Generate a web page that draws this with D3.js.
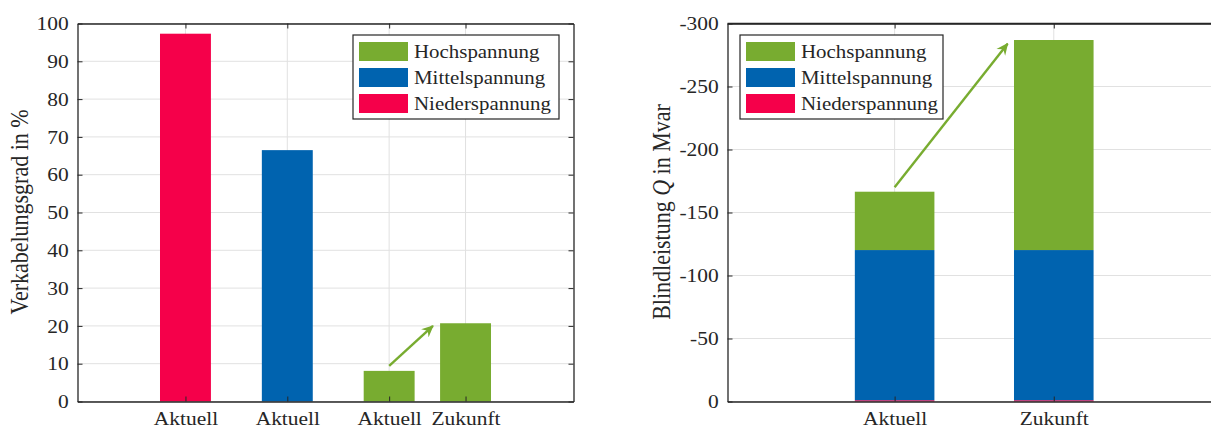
<!DOCTYPE html>
<html>
<head>
<meta charset="utf-8">
<script src="https://cdn.jsdelivr.net/npm/d3@7"></script>
<style>
  body { margin: 0; background: #fff; }
  svg text { font-family: "Liberation Serif", "Times New Roman", serif; fill: #262626; }
</style>
</head>
<body>
<div id="chart"></div>
<script>
// voltage levels, legend order
const levels = ["Hochspannung", "Mittelspannung", "Niederspannung"];
const levelColors = ["#78ac30", "#0063af", "#f5004a"];

// left chart: Verkabelungsgrad
const cableLabels = ["Aktuell", "Aktuell", "Aktuell", "Zukunft"];
const cablePos = [1, 2, 3, 3.75];
const cableLevel = ["Niederspannung", "Mittelspannung", "Hochspannung", "Hochspannung"];
const cableValues = [97.3, 66.5, 8.1, 20.7];
const cableTicks = [0, 10, 20, 30, 40, 50, 60, 70, 80, 90, 100];
const cableArrow = [[3.0, 9.4], [3.43, 20.0]];

// right chart: Blindleistung (stacked)
const qLabels = ["Aktuell", "Zukunft"];
const qPos = [1, 2];
const qNieder = [-1, -1];
const qMittel = [-119.2, -119.2];
const qHoch = [-46.3, -166.7];
const qTicks = [0, -50, -100, -150, -200, -250, -300];
const qArrow = [[1.0, -170], [1.71, -284]];

(function charts(){
  const width = 1211, height = 428;
  const stretch = 1.1;   // glyphs in the picture are a bit wider than tall
  const fs = 19.5;

  const svg = d3.select("#chart").append("svg")
    .attr("width", width).attr("height", height);

  const color = d3.scaleOrdinal().domain(levels).range(levelColors);

  // swept-back arrow head like the MATLAB annotation arrow
  svg.append("defs").append("marker")
    .attr("id", "head")
    .attr("viewBox", "0 0 12 12")
    .attr("refX", 11).attr("refY", 6)
    .attr("markerWidth", 12).attr("markerHeight", 12)
    .attr("markerUnits", "userSpaceOnUse")
    .attr("orient", "auto")
    .append("path")
    .attr("d", "M0,0.5 L12,6 L0,11.5 L4,6 Z")
    .attr("fill", levelColors[0]);

  function grid(g, x, y, box, xTickVals, yTickVals) {
    g.append("g").selectAll("line").data(yTickVals).join("line")
      .attr("x1", box.x0).attr("x2", box.x1)
      .attr("y1", d => y(d)).attr("y2", d => y(d))
      .attr("stroke", "#e1e1e1").attr("stroke-width", 1);
    g.append("g").selectAll("line").data(xTickVals).join("line")
      .attr("x1", d => x(d)).attr("x2", d => x(d))
      .attr("y1", box.y0).attr("y2", box.y1)
      .attr("stroke", "#e1e1e1").attr("stroke-width", 1);
  }

  function axes(g, x, y, box, xTickVals, xTickLabels, yTickVals, showRight) {
    g.append("g").attr("transform", `translate(${box.x0},0)`)
      .call(d3.axisLeft(y).tickValues(yTickVals).tickSizeInner(-5).tickSizeOuter(0)
        .tickPadding(8).tickFormat(d => String(d)));
    g.append("g").attr("transform", `translate(0,${box.y1})`)
      .call(d3.axisBottom(x).tickValues(xTickVals).tickSizeInner(-5).tickSizeOuter(0)
        .tickPadding(10).tickFormat((d, i) => xTickLabels[i]));
    g.append("g").attr("transform", `translate(0,${box.y0})`)
      .call(d3.axisTop(x).tickValues(xTickVals).tickSizeInner(-5).tickSizeOuter(0).tickFormat(""));
    if (showRight) {
      g.append("g").attr("transform", `translate(${box.x1},0)`)
        .call(d3.axisRight(y).tickValues(yTickVals).tickSizeInner(-5).tickSizeOuter(0).tickFormat(""));
    } else {
      g.append("line").attr("x1", box.x0).attr("x2", box.x1)
        .attr("y1", box.y0).attr("y2", box.y0);
    }
    g.selectAll(".domain").attr("stroke", "#262626").attr("stroke-width", 1.3);
    g.selectAll(".tick line").attr("stroke", "#262626").attr("stroke-width", 1);
    g.selectAll(":scope > line").attr("stroke", "#262626").attr("stroke-width", 1.3);
    g.selectAll(".tick text")
      .attr("font-family", "Liberation Serif").attr("font-size", fs)
      .attr("fill", "#262626")
      .attr("transform", `scale(${stretch},1)`);
  }

  function legend(g, lx, ly, w, h) {
    const lg = g.append("g").attr("transform", `translate(${lx},${ly})`);
    lg.append("rect").attr("width", w).attr("height", h)
      .attr("fill", "#fff").attr("stroke", "#262626").attr("stroke-width", 1.2);
    const rows = lg.selectAll("g.row").data(levels).join("g")
      .attr("transform", (d, i) => `translate(6,${7 + i * 26})`);
    rows.append("rect").attr("width", 49).attr("height", 19)
      .attr("fill", d => color(d));
    rows.append("text")
      .attr("transform", `translate(55,16) scale(${stretch},1)`)
      .attr("font-size", 19)
      .text(d => d);
  }

  function ylabel(g, x, y, parts) {
    const t = g.append("text")
      .attr("transform", `translate(${x},${y}) scale(${stretch},1) rotate(-90)`)
      .attr("text-anchor", "middle")
      .attr("font-size", 22);
    parts.forEach(p => t.append("tspan").attr("font-style", p.italic ? "italic" : null).text(p.t));
  }

  function arrow(g, x, y, pts) {
    g.append("line")
      .attr("x1", x(pts[0][0])).attr("y1", y(pts[0][1]))
      .attr("x2", x(pts[1][0])).attr("y2", y(pts[1][1]))
      .attr("stroke", levelColors[0]).attr("stroke-width", 2.4)
      .attr("marker-end", "url(#head)");
  }

  // ---------- left chart ----------
  const boxL = {x0: 77.5, x1: 573.5, y0: 23.5, y1: 401.5};
  const xL = d3.scaleLinear().domain([-0.06, 4.81]).range([boxL.x0, boxL.x1]);
  const yL = d3.scaleLinear().domain([0, 100]).range([boxL.y1, boxL.y0]);
  const gL = svg.append("g");
  grid(gL, xL, yL, boxL, cablePos, cableTicks);

  const barW = xL(0.5) - xL(0);
  gL.append("g").selectAll("rect")
    .data(cableValues.map((v, i) => ({v, p: cablePos[i], level: cableLevel[i]})))
    .join("rect")
    .attr("x", d => xL(d.p) - barW / 2)
    .attr("width", barW)
    .attr("y", d => yL(d.v))
    .attr("height", d => yL(0) - yL(d.v))
    .attr("fill", d => color(d.level));

  axes(gL, xL, yL, boxL, cablePos, cableLabels, cableTicks, true);
  arrow(gL, xL, yL, cableArrow);
  legend(gL, 353, 35, 206, 84);
  ylabel(gL, 28, 212, [{t: "Verkabelungsgrad in %"}]);

  // ---------- right chart ----------
  const boxR = {x0: 727.5, x1: 1240, y0: 23.5, y1: 401.5};
  const xR = d3.scaleLinear().domain([-0.05, 3.17]).range([boxR.x0, boxR.x1]);
  const yR = d3.scaleLinear().domain([0, -300]).range([boxR.y1, boxR.y0]);
  const gR = svg.append("g");
  grid(gR, xR, yR, boxR, qPos, qTicks);

  const table = qLabels.map((label, i) => ({
    label, p: qPos[i],
    Niederspannung: qNieder[i], Mittelspannung: qMittel[i], Hochspannung: qHoch[i]
  }));
  const stack = d3.stack().keys(["Niederspannung", "Mittelspannung", "Hochspannung"])(table);
  const barWR = xR(0.5) - xR(0);
  gR.append("g").selectAll("g")
    .data(stack).join("g")
    .attr("fill", s => color(s.key))
    .selectAll("rect")
    .data(s => s).join("rect")
    .attr("x", d => xR(d.data.p) - barWR / 2)
    .attr("width", barWR)
    .attr("y", d => Math.min(yR(d[0]), yR(d[1])))
    .attr("height", d => Math.abs(yR(d[0]) - yR(d[1])));

  axes(gR, xR, yR, boxR, qPos, qLabels, qTicks, false);
  arrow(gR, xR, yR, qArrow);
  legend(gR, 740, 35, 203, 84);
  ylabel(gR, 670, 212, [{t: "Blindleistung "}, {t: "Q", italic: true}, {t: " in Mvar"}]);
})();
</script>
</body>
</html>
